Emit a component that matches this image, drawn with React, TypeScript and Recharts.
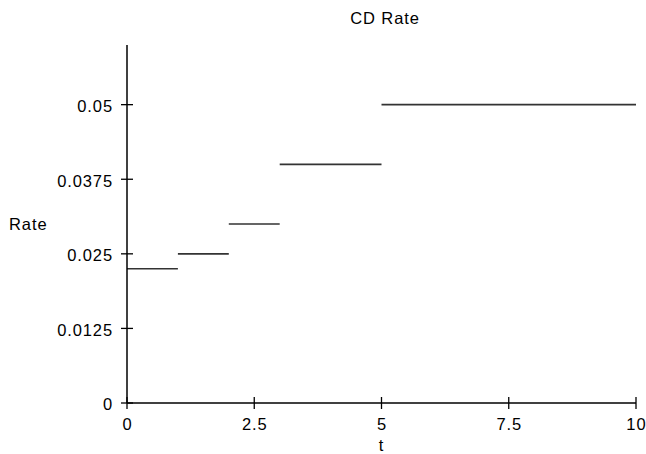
import React from 'react';
import { LineChart, Line, XAxis, YAxis } from 'recharts';

// step segments of the CD rate
const segStart = [0, 1, 2, 3, 5];
const segEnd = [1, 2, 3, 5, 10];
const segRate = [0.0225, 0.025, 0.03, 0.04, 0.05];

const xTicks = [0, 2.5, 5, 7.5, 10];
const yTicks = [0, 0.0125, 0.025, 0.0375, 0.05];

const FONT = '"Liberation Sans", Arial, Helvetica, sans-serif';
const FS = 16.5;
const LS = 0.9;

type Pt = { t: number; rate: number | null };

// each segment is two points, then a gap so the steps are not joined
const data: Pt[] = [];
segStart.forEach((s, i) => {
  data.push({ t: s, rate: segRate[i] });
  data.push({ t: segEnd[i], rate: segRate[i] });
  if (i < segStart.length - 1) data.push({ t: segEnd[i], rate: null });
});

const YTick = (props: any) => {
  const { x, y, payload } = props;
  return (
    <g>
      <line x1={x - 6} x2={x + 6} y1={y} y2={y} stroke="#000" strokeWidth={1.3} />
      <text x={x - 14} y={y} dy="0.44em" textAnchor="end" fontSize={FS} letterSpacing={LS} fontFamily={FONT} fill="#000">
        {payload.value}
      </text>
    </g>
  );
};

const XTick = (props: any) => {
  const { x, y, payload } = props;
  return (
    <g>
      <line x1={x} x2={x} y1={y - 6} y2={y + 6} stroke="#000" strokeWidth={1.3} />
      <text x={x + LS / 2} y={y + 27} textAnchor="middle" fontSize={FS} letterSpacing={LS} fontFamily={FONT} fill="#000">
        {payload.value}
      </text>
    </g>
  );
};

const App: React.FC = () => {
  return (
    <div style={{ position: 'absolute', left: 0, top: 0, width: 646, height: 454, background: '#fff' }}>
      <LineChart width={646} height={454} data={data} margin={{ top: 45, right: 10, left: 0, bottom: 0 }}>
        <XAxis
          dataKey="t"
          type="number"
          domain={[0, 10]}
          ticks={xTicks}
          height={51}
          tickSize={0}
          tickMargin={0}
          tickLine={false}
          tick={<XTick />}
          axisLine={{ stroke: '#000', strokeWidth: 1.5 }}
          label={{ value: 't', position: 'insideBottom', offset: 3, fontSize: FS, letterSpacing: LS, fontFamily: FONT, fill: '#000' }}
        />
        <YAxis
          type="number"
          domain={[0, 0.06]}
          ticks={yTicks}
          width={127}
          tickSize={0}
          tickMargin={0}
          tickLine={false}
          tick={<YTick />}
          axisLine={{ stroke: '#000', strokeWidth: 1.5 }}
          label={{ value: 'Rate', position: 'insideLeft', offset: 9, fontSize: FS, letterSpacing: LS, fontFamily: FONT, fill: '#000' }}
        />
        <Line
          dataKey="rate"
          type="linear"
          stroke="#333"
          strokeWidth={1.6}
          dot={false}
          activeDot={false}
          connectNulls={false}
          isAnimationActive={false}
        />
      </LineChart>
      <svg width={646} height={40} style={{ position: 'absolute', left: 0, top: 0, pointerEvents: 'none' }}>
        <text x={385} y={24} textAnchor="middle" fontSize={FS} letterSpacing={LS} fontFamily={FONT} fill="#000">
          CD Rate
        </text>
      </svg>
    </div>
  );
};

export default App;
